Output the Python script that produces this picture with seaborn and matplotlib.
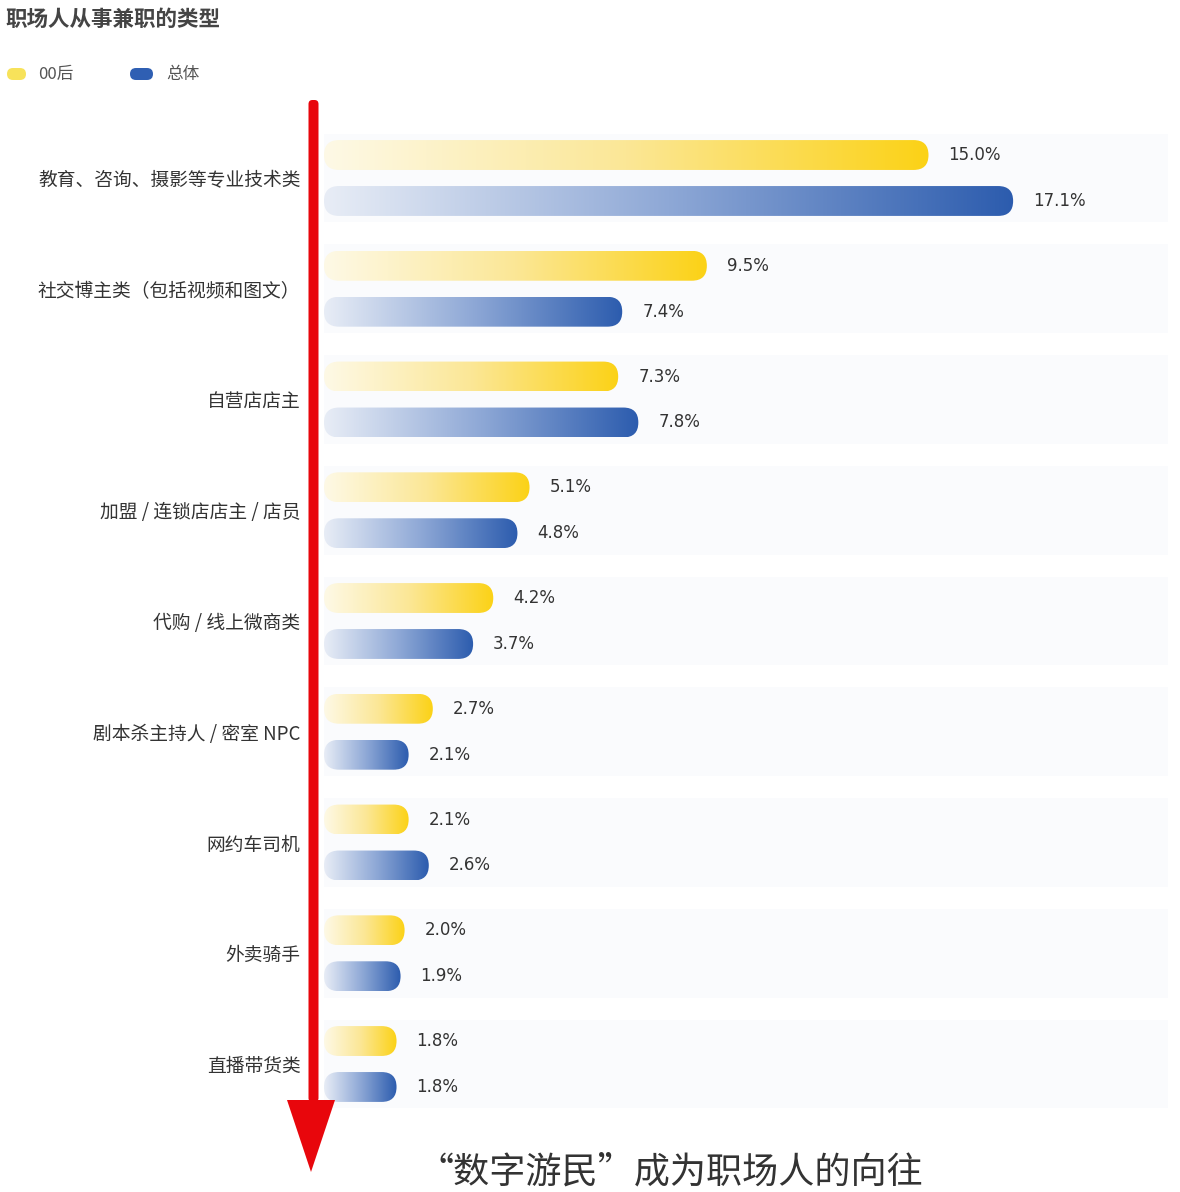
import numpy as np
import pandas as pd
import matplotlib
matplotlib.use("Agg")
import matplotlib.pyplot as plt
import seaborn as sns
from matplotlib.patches import FancyBboxPatch, Polygon
from matplotlib.colors import LinearSegmentedColormap

# ---------------- data ----------------
categories = [
    "教育、咨询、摄影等专业技术类",
    "社交博主类（包括视频和图文）",
    "自营店店主",
    "加盟 / 连锁店店主 / 店员",
    "代购 / 线上微商类",
    "剧本杀主持人 / 密室 NPC",
    "网约车司机",
    "外卖骑手",
    "直播带货类",
]
series_names = ["00后", "总体"]
values_00 = [15.0, 9.5, 7.3, 5.1, 4.2, 2.7, 2.1, 2.0, 1.8]
values_all = [17.1, 7.4, 7.8, 4.8, 3.7, 2.1, 2.6, 1.9, 1.8]
title_text = "职场人从事兼职的类型"
caption_text = "“数字游民”成为职场人的向往"

df = pd.DataFrame({
    "category": categories * 2,
    "group": [series_names[0]] * len(categories) + [series_names[1]] * len(categories),
    "value": values_00 + values_all,
})

# ---------------- style ----------------
sns.set_theme(style="white")
plt.rcParams["font.family"] = ["Noto Sans CJK SC", "DejaVu Sans"]

W, H, DPI = 1180, 1192, 100
fig = plt.figure(figsize=(W / DPI, H / DPI), dpi=DPI)
fig.patch.set_facecolor("white")

# axes placement (pixels)
ax_left, ax_right = 324, 1168
ax_top, ax_bot = 95, 1130
ax = fig.add_axes([ax_left / W, 1 - ax_bot / H, (ax_right - ax_left) / W, (ax_bot - ax_top) / H])

yellow_end, blue_end = "#fcd216", "#2c5cae"
palette = {series_names[0]: yellow_end, series_names[1]: blue_end}

sns.barplot(data=df, y="category", x="value", hue="group", orient="h",
            palette=palette, width=0.83, gap=0.35, ax=ax, legend=False,
            errorbar=None)

px_per_unit_x = 40.3
xmax = (ax_right - ax_left) / px_per_unit_x
cat_step = 110.75
ytop = -(178 - ax_top) / cat_step
ybot = (len(categories) - 1) + (ax_bot - (178 + 8 * cat_step)) / cat_step
ax.set_xlim(0, xmax)
ax.set_ylim(ybot, ytop)

# very faint row bands
for i in range(len(categories)):
    ax.axhspan(i - 0.40, i + 0.40, xmin=0, xmax=1, color="#fafbfd", zorder=0, lw=0)

cmaps = [
    LinearSegmentedColormap.from_list("y", ["#fef9e6", "#fbe796", yellow_end]),
    LinearSegmentedColormap.from_list("b", ["#e8edf6", "#8ea8d6", blue_end]),
]

ax_w_px = ax_right - ax_left
ax_h_px = ax_bot - ax_top
xupp = xmax / ax_w_px
yupp = (ybot - ytop) / ax_h_px
m_aspect = yupp / xupp

grad = np.linspace(0, 1, 256).reshape(1, -1)
for ci, cont in enumerate(ax.containers):
    vals = values_00 if ci == 0 else values_all
    for pi, p in enumerate(cont.patches):
        x0, y0 = p.get_x(), p.get_y()
        w, h = p.get_width(), p.get_height()
        p.set_visible(False)
        radius = (abs(h) / yupp) / 2 * xupp
        fb = FancyBboxPatch((x0, y0), w, h,
                            boxstyle=f"round,pad=0,rounding_size={radius}",
                            mutation_aspect=m_aspect, facecolor="none",
                            edgecolor="none", transform=ax.transData)
        ax.add_patch(fb)
        im = ax.imshow(grad, extent=[x0, x0 + w, y0 + h, y0], cmap=cmaps[ci],
                       aspect="auto", interpolation="bicubic", zorder=2)
        im.set_clip_path(fb)
        ax.text(x0 + w + 20 / px_per_unit_x, y0 + h / 2, f"{vals[pi]:.1f}%",
                ha="left", va="center", fontsize=12, color="#333333",
                family=["DejaVu Sans"], zorder=3)

ax.set_xlim(0, xmax)
ax.set_ylim(ybot, ytop)
ax.set_xlabel("")
ax.set_ylabel("")
ax.set_xticks([])
for s in ax.spines.values():
    s.set_visible(False)
ax.tick_params(axis="y", length=0, pad=17, labelsize=13.5, labelcolor="#333333")
ax.set_facecolor("white")

# ---------------- title & legend ----------------
def fy(py):
    return 1 - py / H

fig.text(5 / W, fy(19), title_text, fontsize=15.5, fontweight="bold",
         color="#444444", ha="left", va="center")

inch = fig.dpi_scale_trans
def pill(x0, x1, yc, hgt, color):
    r = hgt / 2 / DPI
    pb = FancyBboxPatch((x0 / DPI, (H - yc) / DPI - r), (x1 - x0) / DPI, 2 * r,
                        boxstyle=f"round,pad=0,rounding_size={r}",
                        facecolor=color, edgecolor="none", transform=inch)
    fig.patches.append(pb)

pill(7, 26, 74, 12, "#f7e25a")
pill(130, 153, 74, 12, "#2f5fb3")
fig.text(38 / W, fy(74), series_names[0], fontsize=12, color="#555555",
         ha="left", va="center")
fig.text(166 / W, fy(74), series_names[1], fontsize=12, color="#555555",
         ha="left", va="center")

# ---------------- red arrow ----------------
red = "#e8060c"
shaft = FancyBboxPatch((308.5 / DPI, (H - 1102) / DPI), 10 / DPI, (1102 - 100) / DPI,
                       boxstyle=f"round,pad=0,rounding_size={4 / DPI}",
                       facecolor=red, edgecolor="none", transform=inch, zorder=5)
fig.patches.append(shaft)
head = Polygon([[287 / DPI, (H - 1100) / DPI], [335 / DPI, (H - 1100) / DPI],
                [311 / DPI, (H - 1172) / DPI]], closed=True,
               facecolor=red, edgecolor="none", transform=inch, zorder=5)
fig.patches.append(head)

# ---------------- caption ----------------
fig.text(670 / W, fy(1172), caption_text, fontsize=26, color="#333333",
         ha="center", va="center")

fig.savefig("out.png", dpi=DPI, facecolor="white")
